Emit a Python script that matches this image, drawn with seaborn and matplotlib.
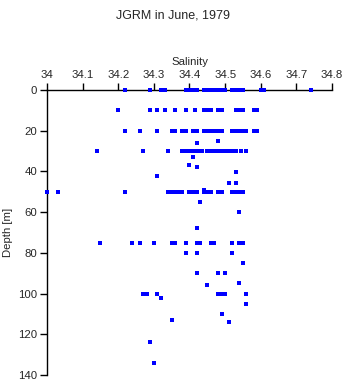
import matplotlib
matplotlib.use("Agg")
import matplotlib.pyplot as plt
import seaborn as sns
import pandas as pd

sns.set_style("white")
plt.rcParams['font.family'] = ['Liberation Sans', 'DejaVu Sans']

title = "JGRM in June, 1979"
xlabel = "Salinity"
ylabel = "Depth [m]"
xticks = [34, 34.1, 34.2, 34.3, 34.4, 34.5, 34.6, 34.7, 34.8]
xticklabels = ["34", "34.1", "34.2", "34.3", "34.4", "34.5", "34.6", "34.7", "34.8"]
yticks = [0, 20, 40, 60, 80, 100, 120, 140]

sal_0 = [34.22, 34.29, 34.32, 34.33, 34.39, 34.40, 34.41, 34.42, 34.44, 34.45,
         34.46, 34.47, 34.48, 34.49, 34.50, 34.52, 34.53, 34.54, 34.55, 34.60,
         34.61, 34.74]
sal_10 = [34.20, 34.29, 34.31, 34.33, 34.36, 34.39, 34.415, 34.44, 34.45,
          34.46, 34.48, 34.49, 34.53, 34.54, 34.55, 34.58, 34.59]
sal_20 = [34.22, 34.26, 34.31, 34.35, 34.36, 34.38, 34.39, 34.41, 34.42,
          34.44, 34.45, 34.46, 34.47, 34.48, 34.49, 34.52, 34.53, 34.54,
          34.55, 34.56, 34.58, 34.59]
sal_30 = [34.14, 34.27, 34.34, 34.38, 34.39, 34.40, 34.41, 34.42, 34.425,
          34.435, 34.45, 34.46, 34.47, 34.48, 34.49, 34.50, 34.51, 34.52,
          34.53, 34.545, 34.56]
sal_50 = [34.00, 34.03, 34.22, 34.34, 34.35, 34.36, 34.37, 34.38, 34.40,
          34.41, 34.42, 34.44, 34.45, 34.46, 34.48, 34.49, 34.52, 34.53,
          34.54, 34.55]
sal_75 = [34.15, 34.24, 34.26, 34.30, 34.35, 34.36, 34.39, 34.42, 34.425,
          34.43, 34.46, 34.47, 34.52, 34.54, 34.55]
sal_100 = [34.27, 34.28, 34.31, 34.48, 34.49, 34.50, 34.56]

extra_sal = [34.42, 34.48, 34.41, 34.40, 34.42, 34.31, 34.53, 34.51, 34.53,
             34.44, 34.43, 34.54, 34.42, 34.39, 34.42, 34.52, 34.55, 34.42,
             34.48, 34.50, 34.54, 34.45, 34.32, 34.56, 34.49, 34.35, 34.51,
             34.29, 34.30]
extra_depth = [26, 25, 33, 37, 38, 42, 40.5, 45.5, 45.5,
               49, 55, 60, 68, 80, 80, 80, 85, 90,
               90, 90, 95, 96, 102, 105, 110, 113, 114,
               124, 134]

sal = sal_0 + sal_10 + sal_20 + sal_30 + sal_50 + sal_75 + sal_100 + extra_sal
depth = ([0] * len(sal_0) + [10] * len(sal_10) + [20] * len(sal_20) +
         [30] * len(sal_30) + [50] * len(sal_50) + [75] * len(sal_75) +
         [100] * len(sal_100) + extra_depth)
df = pd.DataFrame({"Salinity": sal, "Depth": depth})

fig = plt.figure(figsize=(3.46, 3.84), dpi=100)
ax = fig.add_axes([0.1358, 0.0234, 0.8237, 0.7422])
sns.scatterplot(data=df, x="Salinity", y="Depth", ax=ax, marker="s",
                s=5, color="#0000ff", linewidth=0, clip_on=False, zorder=5)

ax.set_xlim(34, 34.8)
ax.set_ylim(140, 0)
ax.xaxis.tick_top()
ax.xaxis.set_label_position("top")
ax.set_xticks(xticks)
ax.set_xticklabels(xticklabels)
ax.set_yticks(yticks)
ax.set_xlabel(xlabel, fontsize=8.2, labelpad=4)
ax.set_ylabel(ylabel, fontsize=8.2, labelpad=4)
ax.tick_params(axis="both", direction="out", length=5, width=1,
               labelsize=8.2, color="black", pad=2,
               left=True, top=True, bottom=False, right=False)
for side in ["right", "bottom"]:
    ax.spines[side].set_visible(False)
for side in ["left", "top"]:
    ax.spines[side].set_color("black")
    ax.spines[side].set_linewidth(1)
fig.suptitle(title, fontsize=9, y=0.975)

fig.savefig("out.png", dpi=100)
